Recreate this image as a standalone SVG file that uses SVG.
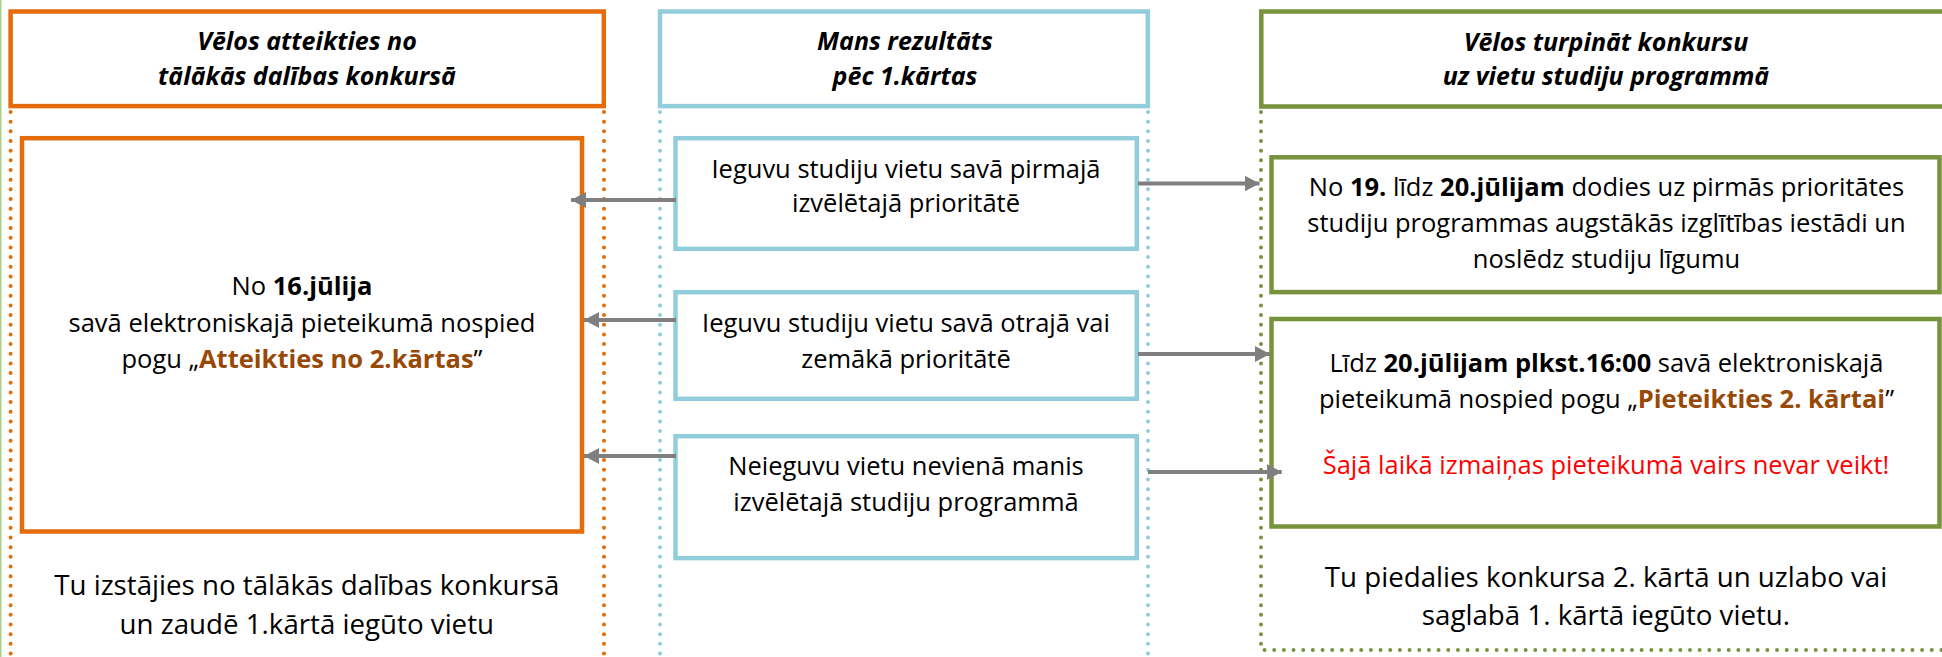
<svg xmlns="http://www.w3.org/2000/svg" width="1942" height="657" viewBox="0 0 1942 657">
<defs>
<style>
.t{font-family:"Open Sans","Noto Sans","Liberation Sans",sans-serif;font-size:25.5px;fill:#000;text-anchor:middle}
.big{font-size:27.7px}
.h{font-family:"Open Sans","Noto Sans","Liberation Sans",sans-serif;font-size:25px;font-weight:bold;font-style:italic;fill:#000;text-anchor:middle}
.b{font-weight:bold}
.br{font-weight:bold;fill:#984807}
.red{fill:#FF0000}
.or{fill:#fff;stroke:#E46C0A;stroke-width:4.5}
.bl{fill:#fff;stroke:#92CDDC;stroke-width:4.5}
.gr{fill:#fff;stroke:#77933C;stroke-width:4.5}
.dot{fill:none;stroke-width:4;stroke-linecap:round;stroke-dasharray:0 9.67}
.con{fill:none;stroke:#7F7F7F;stroke-width:3.8}
</style>
<marker id="ah" markerUnits="userSpaceOnUse" markerWidth="18" markerHeight="18" refX="15" refY="8" orient="auto">
<path d="M0,0 L15,8 L0,16 Z" fill="#7F7F7F"/>
</marker>
</defs>
<rect width="1942" height="657" fill="#fff"/>
<line x1="0.75" y1="0" x2="0.75" y2="657" stroke="#A9D18E" stroke-width="1.5"/>

<g id="guides">
<line class="dot" x1="10.6" y1="112" x2="10.6" y2="657" stroke="#E46C0A"/>
<line class="dot" x1="604" y1="112" x2="604" y2="657" stroke="#E46C0A"/>
<line class="dot" x1="660" y1="112" x2="660" y2="657" stroke="#92CDDC"/>
<line class="dot" x1="1148" y1="112" x2="1148" y2="657" stroke="#92CDDC"/>
<path class="dot" d="M1261,112 V650 H1942" stroke="#77933C" stroke-width="3.6"/>
</g>

<g id="hdr-left">
<rect class="or" x="10.6" y="11.5" width="593.2" height="94.6"/>
<text class="h" x="307" y="50">Vēlos atteikties no</text>
<text class="h" x="307" y="85">tālākās dalības konkursā</text>
</g>
<g id="hdr-mid">
<rect class="bl" x="660" y="11.5" width="487.8" height="94.6"/>
<text class="h" x="905" y="50">Mans rezultāts</text>
<text class="h" x="905" y="85">pēc 1.kārtas</text>
</g>
<g id="hdr-right">
<rect class="gr" x="1261.3" y="11.5" width="684" height="95"/>
<text class="h" x="1606" y="50.5">Vēlos turpināt konkursu</text>
<text class="h" x="1606" y="85">uz vietu studiju programmā</text>
</g>

<g id="withdraw">
<rect class="or" x="22" y="138.2" width="560" height="393.3"/>
<text class="t" x="302" y="295">No <tspan class="b">16.jūlija</tspan></text>
<text class="t" x="302" y="331.7">savā elektroniskajā pieteikumā nospied</text>
<text class="t" x="302" y="368">pogu „<tspan class="br">Atteikties no 2.kārtas</tspan>”</text>
</g>
<g id="withdraw-result">
<text class="t big" x="306.8" y="595.3">Tu izstājies no tālākās dalības konkursā</text>
<text class="t big" x="306.8" y="634.3">un zaudē 1.kārtā iegūto vietu</text>
</g>

<g id="res1">
<rect class="bl" x="675.5" y="138.2" width="461.3" height="110.6"/>
<text class="t" x="906" y="178.3">Ieguvu studiju vietu savā pirmajā</text>
<text class="t" x="906" y="212.3">izvēlētajā prioritātē</text>
</g>
<g id="res2">
<rect class="bl" x="675.5" y="292.2" width="461.3" height="106.6"/>
<text class="t" x="906" y="331.7">Ieguvu studiju vietu savā otrajā vai</text>
<text class="t" x="906" y="367.7">zemākā prioritātē</text>
</g>
<g id="res3">
<rect class="bl" x="675.5" y="436.2" width="461.3" height="121.9"/>
<text class="t" x="906" y="475.3">Neieguvu vietu nevienā manis</text>
<text class="t" x="906" y="511.3">izvēlētajā studiju programmā</text>
</g>

<g id="contract">
<rect class="gr" x="1271.5" y="157.3" width="668" height="134.8"/>
<text class="t" x="1606.5" y="195.7">No <tspan class="b">19.</tspan> līdz <tspan class="b">20.jūlijam</tspan> dodies uz pirmās prioritātes</text>
<text class="t" x="1606.5" y="231.7">studiju programmas augstākās izglītības iestādi un</text>
<text class="t" x="1606.5" y="268.3">noslēdz studiju līgumu</text>
</g>
<g id="apply2">
<rect class="gr" x="1271.5" y="319" width="668" height="207.5"/>
<text class="t" x="1606.5" y="372.3">Līdz <tspan class="b">20.jūlijam plkst.16:00</tspan> savā elektroniskajā</text>
<text class="t" x="1606.5" y="408.3">pieteikumā nospied pogu „<tspan class="br">Pieteikties 2. kārtai</tspan>”</text>
<text class="t red" x="1606" y="474">Šajā laikā izmaiņas pieteikumā vairs nevar veikt!</text>
</g>
<g id="continue-result">
<text class="t big" x="1606" y="587">Tu piedalies konkursa 2. kārtā un uzlabo vai</text>
<text class="t big" x="1606" y="625.3">saglabā 1. kārtā iegūto vietu.</text>
</g>

<g id="connectors">
<line class="con" x1="676" y1="200" x2="571" y2="200" marker-end="url(#ah)"/>
<line class="con" x1="676" y1="320" x2="584" y2="320" marker-end="url(#ah)"/>
<line class="con" x1="676" y1="456" x2="584" y2="456" marker-end="url(#ah)"/>
<line class="con" x1="1138" y1="183.5" x2="1259.5" y2="183.5" marker-end="url(#ah)"/>
<line class="con" x1="1138" y1="354" x2="1270" y2="354" marker-end="url(#ah)"/>
<line class="con" x1="1148" y1="472" x2="1281.7" y2="472" marker-end="url(#ah)"/>
</g>
</svg>
